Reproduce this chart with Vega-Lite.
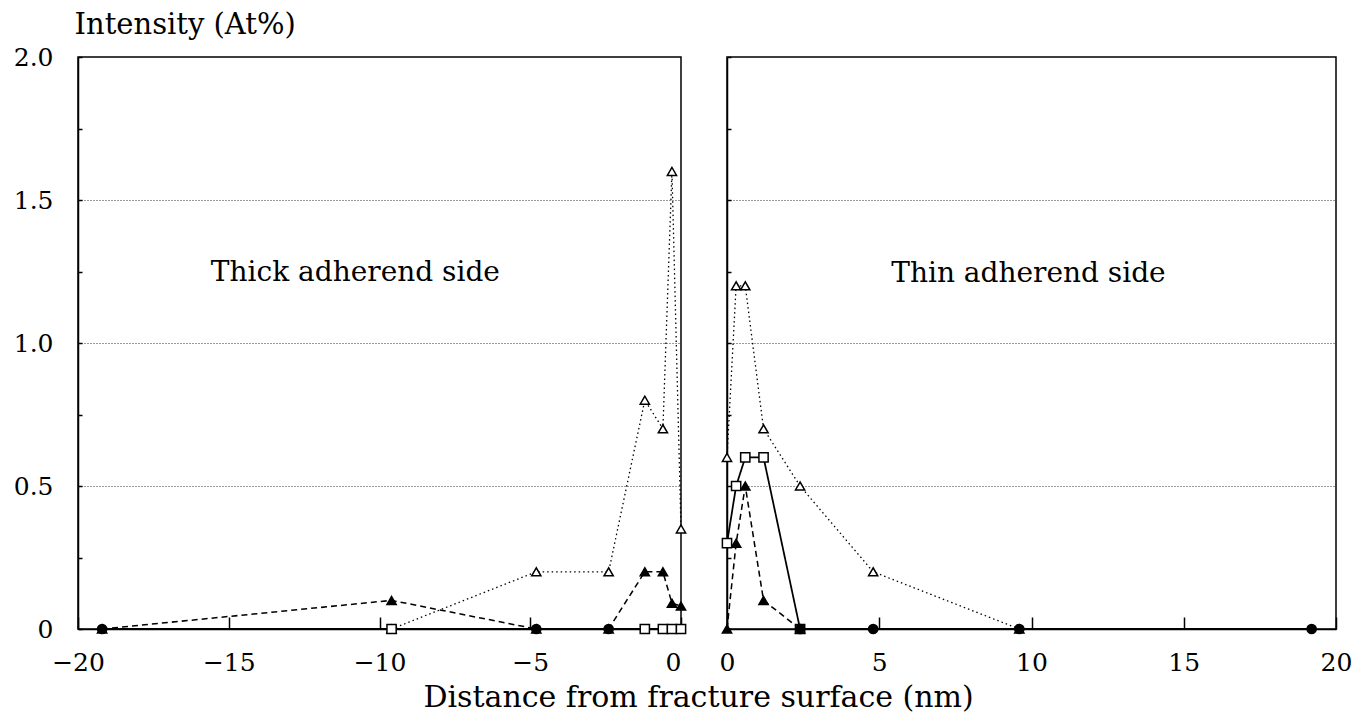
{
  "$schema": "https://vega.github.io/schema/vega-lite/v6.json",
  "background": "white",
  "padding": {"left": 12, "top": 9, "right": 5, "bottom": 5},
  "bounds": "flush",
  "spacing": 46,
  "config": {
    "view": {"stroke": "black", "strokeWidth": 1.5},
    "axis": {
      "domainColor": "black", "domainWidth": 1.5,
      "tickColor": "black", "tickWidth": 1.5,
      "labelColor": "black", "labelFont": "DejaVu Serif", "labelFontSize": 25,
      "titleFont": "DejaVu Serif", "titleFontWeight": "normal", "titleColor": "black", "titleFontSize": 29
    }
  },
  "title": {
    "text": "Distance from fracture surface (nm)",
    "orient": "bottom", "anchor": "middle",
    "font": "DejaVu Serif", "fontSize": 30, "fontWeight": "normal", "color": "black",
    "offset": 7, "dx": 16
  },
  "datasets": {
    "pts": [
      {"side": "L", "s": "o", "x": -9.6, "y": 0},
      {"side": "L", "s": "o", "x": -4.8, "y": 0.2},
      {"side": "L", "s": "o", "x": -2.4, "y": 0.2},
      {"side": "L", "s": "o", "x": -1.2, "y": 0.8},
      {"side": "L", "s": "o", "x": -0.6, "y": 0.7},
      {"side": "L", "s": "o", "x": -0.3, "y": 1.6},
      {"side": "L", "s": "o", "x": 0, "y": 0.35},
      {"side": "L", "s": "f", "x": -19.2, "y": 0},
      {"side": "L", "s": "f", "x": -9.6, "y": 0.1},
      {"side": "L", "s": "f", "x": -4.8, "y": 0},
      {"side": "L", "s": "f", "x": -2.4, "y": 0},
      {"side": "L", "s": "f", "x": -1.2, "y": 0.2},
      {"side": "L", "s": "f", "x": -0.6, "y": 0.2},
      {"side": "L", "s": "f", "x": -0.3, "y": 0.09},
      {"side": "L", "s": "f", "x": 0, "y": 0.08},
      {"side": "L", "s": "q", "x": -9.6, "y": 0},
      {"side": "L", "s": "q", "x": -1.2, "y": 0},
      {"side": "L", "s": "q", "x": -0.6, "y": 0},
      {"side": "L", "s": "q", "x": -0.3, "y": 0},
      {"side": "L", "s": "q", "x": 0, "y": 0},
      {"side": "L", "s": "c", "x": -19.2, "y": 0},
      {"side": "L", "s": "c", "x": -4.8, "y": 0},
      {"side": "L", "s": "c", "x": -2.4, "y": 0},
      {"side": "R", "s": "o", "x": 0, "y": 0.6},
      {"side": "R", "s": "o", "x": 0.3, "y": 1.2},
      {"side": "R", "s": "o", "x": 0.6, "y": 1.2},
      {"side": "R", "s": "o", "x": 1.2, "y": 0.7},
      {"side": "R", "s": "o", "x": 2.4, "y": 0.5},
      {"side": "R", "s": "o", "x": 4.8, "y": 0.2},
      {"side": "R", "s": "o", "x": 9.6, "y": 0},
      {"side": "R", "s": "f", "x": 0, "y": 0},
      {"side": "R", "s": "f", "x": 0.3, "y": 0.3},
      {"side": "R", "s": "f", "x": 0.6, "y": 0.5},
      {"side": "R", "s": "f", "x": 1.2, "y": 0.1},
      {"side": "R", "s": "f", "x": 2.4, "y": 0},
      {"side": "R", "s": "q", "x": 0, "y": 0.3},
      {"side": "R", "s": "q", "x": 0.3, "y": 0.5},
      {"side": "R", "s": "q", "x": 0.6, "y": 0.6},
      {"side": "R", "s": "q", "x": 1.2, "y": 0.6},
      {"side": "R", "s": "q", "x": 2.4, "y": 0},
      {"side": "R", "s": "c", "x": 2.4, "y": 0},
      {"side": "R", "s": "c", "x": 4.8, "y": 0},
      {"side": "R", "s": "c", "x": 9.6, "y": 0},
      {"side": "R", "s": "c", "x": 19.2, "y": 0}
    ],
    "ann": [
      {"side": "L", "label": "Thick adherend side", "x": -10.8, "y": 1.245},
      {"side": "R", "label": "Thin adherend side", "x": 9.9, "y": 1.24}
    ]
  },
  "hconcat": [
    {
      "width": 603,
      "height": 572,
      "encoding": {
        "x": {
          "field": "x", "type": "quantitative",
          "scale": {"domain": [-20, 0], "nice": false, "zero": false},
          "axis": {
            "values": [-20, -15, -10, -5, 0],
            "tickSize": -12, "labelPadding": 33, "title": null, "grid": false, "labelFlush": false,
            "labelAlign": {"condition": {"test": "datum.value == 0", "value": "right"}, "value": "center"}
          }
        },
        "y": {
          "field": "y", "type": "quantitative",
          "scale": {"domain": [0, 2], "nice": false},
          "axis": {
            "values": [0, 0.25, 0.5, 0.75, 1, 1.25, 1.5, 1.75, 2],
            "tickSize": -4, "labelPadding": 29,
            "labelExpr": "datum.value == 0 ? '0' : (datum.value % 0.5 == 0 ? format(datum.value, '.1f') : '')",
            "grid": true, "gridDash": [1, 2], "gridColor": "#222", "gridWidth": 1,
            "gridOpacity": {"condition": {"test": "datum.value == 0.5 || datum.value == 1 || datum.value == 1.5", "value": 0.9}, "value": 0},
            "title": "Intensity (At%)", "titleAngle": 0, "titleAlign": "left", "titleBaseline": "alphabetic",
            "titleX": -4, "titleY": -24
          }
        }
      },
      "layer": [
        {
          "data": {"name": "pts"},
          "transform": [{"filter": "datum.side == 'L'"}],
          "mark": {"type": "line", "color": "black"},
          "encoding": {
            "strokeDash": {"field": "s", "type": "nominal", "scale": {"domain": ["o", "f", "q", "c"], "range": [[1.5, 3], [6, 4], [1, 0], [1, 0]]}, "legend": null},
            "strokeWidth": {"field": "s", "type": "ordinal", "scale": {"domain": ["o", "f", "q", "c"], "range": [1.3, 2, 1.6, 1.5]}, "legend": null},
            "order": {"field": "x", "type": "quantitative"}
          }
        },
        {
          "data": {"name": "pts"},
          "transform": [{"filter": "datum.side == 'L'"}],
          "mark": {"type": "point", "filled": true, "stroke": "black", "strokeWidth": 1.5, "opacity": 1},
          "encoding": {
            "shape": {"field": "s", "type": "nominal", "scale": {"domain": ["o", "f", "q", "c"], "range": ["triangle-up", "triangle-up", "square", "circle"]}, "legend": null},
            "fill": {"field": "s", "type": "nominal", "scale": {"domain": ["o", "f", "q", "c"], "range": ["white", "black", "white", "black"]}, "legend": null},
            "size": {"field": "s", "type": "ordinal", "scale": {"domain": ["o", "f", "q", "c"], "range": [85, 85, 50, 80]}, "legend": null}
          }
        },
        {
          "data": {"name": "ann"},
          "transform": [{"filter": "datum.side == 'L'"}],
          "mark": {"type": "text", "font": "DejaVu Serif", "fontSize": 28, "color": "black", "align": "center", "baseline": "middle"},
          "encoding": {"text": {"field": "label"}}
        }
      ]
    },
    {
      "width": 609,
      "height": 572,
      "encoding": {
        "x": {
          "field": "x", "type": "quantitative",
          "scale": {"domain": [0, 20], "nice": false, "zero": false},
          "axis": {
            "values": [0, 5, 10, 15, 20],
            "tickSize": -12, "labelPadding": 33, "title": null, "grid": false, "labelFlush": false
          }
        },
        "y": {
          "field": "y", "type": "quantitative",
          "scale": {"domain": [0, 2], "nice": false},
          "axis": {
            "values": [0, 0.25, 0.5, 0.75, 1, 1.25, 1.5, 1.75, 2],
            "tickSize": -4, "labels": false, "title": null,
            "grid": true, "gridDash": [1, 2], "gridColor": "#222", "gridWidth": 1,
            "gridOpacity": {"condition": {"test": "datum.value == 0.5 || datum.value == 1 || datum.value == 1.5", "value": 0.9}, "value": 0}
          }
        }
      },
      "layer": [
        {
          "data": {"name": "pts"},
          "transform": [{"filter": "datum.side == 'R'"}],
          "mark": {"type": "line", "color": "black"},
          "encoding": {
            "strokeDash": {"field": "s", "type": "nominal", "scale": {"domain": ["o", "f", "q", "c"], "range": [[1.5, 3], [6, 4], [1, 0], [1, 0]]}, "legend": null},
            "strokeWidth": {"field": "s", "type": "ordinal", "scale": {"domain": ["o", "f", "q", "c"], "range": [1.3, 2, 1.6, 1.5]}, "legend": null},
            "order": {"field": "x", "type": "quantitative"}
          }
        },
        {
          "data": {"name": "pts"},
          "transform": [{"filter": "datum.side == 'R'"}],
          "mark": {"type": "point", "filled": true, "stroke": "black", "strokeWidth": 1.5, "opacity": 1},
          "encoding": {
            "shape": {"field": "s", "type": "nominal", "scale": {"domain": ["o", "f", "q", "c"], "range": ["triangle-up", "triangle-up", "square", "circle"]}, "legend": null},
            "fill": {"field": "s", "type": "nominal", "scale": {"domain": ["o", "f", "q", "c"], "range": ["white", "black", "white", "black"]}, "legend": null},
            "size": {"field": "s", "type": "ordinal", "scale": {"domain": ["o", "f", "q", "c"], "range": [85, 85, 50, 80]}, "legend": null}
          }
        },
        {
          "data": {"name": "ann"},
          "transform": [{"filter": "datum.side == 'R'"}],
          "mark": {"type": "text", "font": "DejaVu Serif", "fontSize": 28, "color": "black", "align": "center", "baseline": "middle"},
          "encoding": {"text": {"field": "label"}}
        }
      ]
    }
  ]
}
